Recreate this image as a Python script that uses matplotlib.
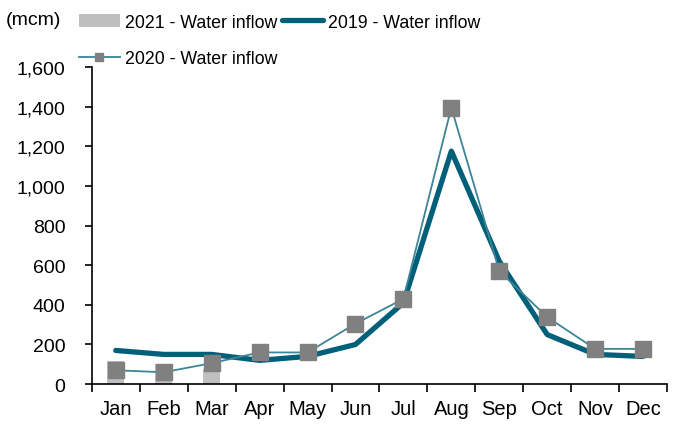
import numpy as np
import matplotlib
matplotlib.use("Agg")
import matplotlib.pyplot as plt
from matplotlib.ticker import FuncFormatter

# ── Data ────────────────────────────────────────────────
months = ['Jan', 'Feb', 'Mar', 'Apr', 'May', 'Jun',
          'Jul', 'Aug', 'Sep', 'Oct', 'Nov', 'Dec']
inflow_2021 = [115, 100, 75]
inflow_2019 = [170, 150, 150, 120, 140, 200, 410, 1175, 620, 250, 150, 140]
inflow_2020 = [70, 60, 106, 160, 160, 305, 430, 1395, 570, 338, 178, 178]

plt.rcParams['font.family'] = ['Liberation Sans', 'DejaVu Sans']

fig = plt.figure(figsize=(6.8, 4.27), dpi=100)
ax = fig.add_axes([0.135, 0.098, 0.846, 0.743])

x = np.arange(len(months))

bars = ax.bar(x[:len(inflow_2021)], inflow_2021, width=0.36,
              color='#BFBFBF', label='2021 - Water inflow', zorder=2)
l19, = ax.plot(x, inflow_2019, color='#00607A', linewidth=3.8,
               solid_capstyle='round', label='2019 - Water inflow', zorder=3)
l20, = ax.plot(x, inflow_2020, color='#3D8496', linewidth=1.3,
               marker='s', markersize=11, markerfacecolor='#808080',
               markeredgecolor='#808080', label='2020 - Water inflow', zorder=4)

ax.set_ylim(0, 1600)
ax.set_yticks(np.arange(0, 1601, 200))
ax.yaxis.set_major_formatter(FuncFormatter(lambda v, p: f'{int(v):,}'))
ax.set_xlim(-0.5, len(months) - 0.5)

# ticks at category boundaries, labels at centres
ax.set_xticks(np.arange(-0.5, len(months), 1.0))
ax.set_xticklabels([])
ax.set_xticks(x, minor=True)
ax.set_xticklabels(months, minor=True)
ax.tick_params(axis='x', which='minor', length=0, pad=11, labelsize=14.5)
ax.tick_params(axis='x', which='major', length=6, width=1.2, direction='out')
ax.tick_params(axis='y', length=5, width=1.2, direction='out', labelsize=14, pad=14)

for s in ['top', 'right']:
    ax.spines[s].set_visible(False)
for s in ['left', 'bottom']:
    ax.spines[s].set_linewidth(1.2)

fig.text(0.008, 0.951, '(mcm)', fontsize=14, va='center', ha='left')

fig.legend(handles=[bars, l20, l19], loc='upper left',
           bbox_to_anchor=(0.116, 0.966), ncol=2, frameon=False,
           fontsize=12.8, handlelength=2.3, handletextpad=0.3,
           columnspacing=0.25, labelspacing=1.1, borderaxespad=0,
           borderpad=0, markerscale=0.55)

plt.savefig('out.png', dpi=100)
